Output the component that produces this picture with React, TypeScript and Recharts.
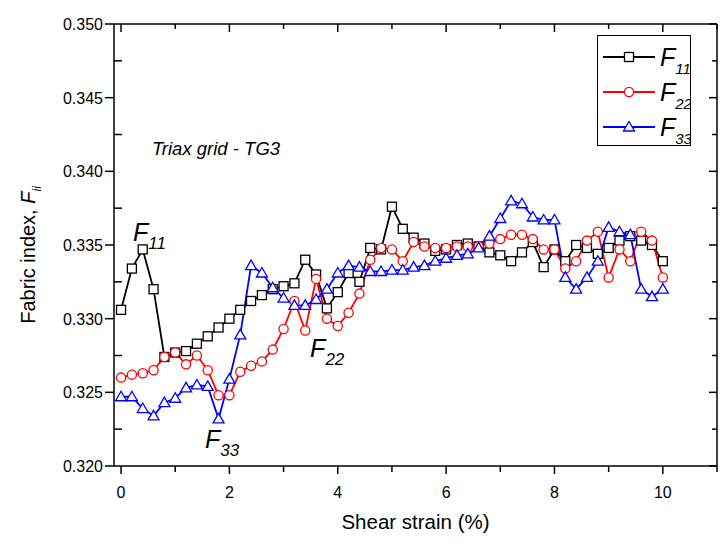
import React from "react";
import { LineChart, Line, XAxis, YAxis, Legend, ReferenceDot } from "recharts";

const STRAIN = [
  0, 0.2, 0.4, 0.6, 0.8, 1.0, 1.2, 1.4, 1.6, 1.8, 2.0, 2.2, 2.4, 2.6, 2.8, 3.0, 3.2,
  3.4, 3.6, 3.8, 4.0, 4.2, 4.4, 4.6, 4.8, 5.0, 5.2, 5.4, 5.6, 5.8, 6.0, 6.2, 6.4, 6.6,
  6.8, 7.0, 7.2, 7.4, 7.6, 7.8, 8.0, 8.2, 8.4, 8.6, 8.8, 9.0, 9.2, 9.4, 9.6, 9.8, 10.0,
];

const F11 = [
  0.3306, 0.3334, 0.3347, 0.332, 0.3274, 0.3277, 0.3278, 0.3283, 0.3288, 0.3294, 0.33,
  0.3306, 0.3312, 0.3316, 0.332, 0.3322, 0.3324, 0.334, 0.333, 0.3307, 0.3318, 0.3331,
  0.3325, 0.3348, 0.3347, 0.3376, 0.3361, 0.3355, 0.3351, 0.3346, 0.3347, 0.335, 0.3351,
  0.3349, 0.3345, 0.3343, 0.3339, 0.3345, 0.3352, 0.3335, 0.3347, 0.3339, 0.335, 0.3348,
  0.3344, 0.3348, 0.3353, 0.3356, 0.3353, 0.335, 0.3339,
];

const F22 = [
  0.326, 0.3262, 0.3263, 0.3265, 0.3274, 0.3277, 0.3269, 0.3275, 0.3265, 0.3248, 0.3248,
  0.3264, 0.3268, 0.3271, 0.3279, 0.3293, 0.3312, 0.3292, 0.3327, 0.33, 0.3295, 0.3304,
  0.3317, 0.334, 0.3348, 0.3347, 0.3339, 0.3352, 0.3349, 0.3348, 0.3348, 0.3349, 0.3349,
  0.3349, 0.3351, 0.3354, 0.3357, 0.3357, 0.3354, 0.3347, 0.3347, 0.3334, 0.3339, 0.3353,
  0.3359, 0.3328, 0.3347, 0.3339, 0.3359, 0.3353, 0.3328,
];

const F33 = [
  0.3247, 0.3247, 0.3239, 0.3234, 0.3243, 0.3246, 0.3253, 0.3255, 0.3254, 0.3232, 0.3259,
  0.3289, 0.3336, 0.3331, 0.3321, 0.3314, 0.3309, 0.3309, 0.3313, 0.332, 0.3331, 0.3336,
  0.3335, 0.3332, 0.3332, 0.3333, 0.3333, 0.3335, 0.3336, 0.3339, 0.3341, 0.3343, 0.3344,
  0.3348, 0.3356, 0.3368, 0.338, 0.3378, 0.3369, 0.3367, 0.3367, 0.3328, 0.332, 0.3328,
  0.3339, 0.3362, 0.3359, 0.3357, 0.332, 0.3315, 0.332,
];

const X_TICKS = [0, 1, 2, 3, 4, 5, 6, 7, 8, 9, 10, 11];
const Y_TICKS = [
  0.32, 0.3225, 0.325, 0.3275, 0.33, 0.3325, 0.335, 0.3375, 0.34, 0.3425, 0.345, 0.3475, 0.35,
];

const SERIES = [
  { key: "f11", sub: "11", color: "#000000", marker: "square" },
  { key: "f22", sub: "22", color: "#ff0000", marker: "circle" },
  { key: "f33", sub: "33", color: "#0000ff", marker: "triangle" },
];

const NOTES = [
  { x: 0.22, y: 0.3353, sub: "11" },
  { x: 3.49, y: 0.3274, sub: "22" },
  { x: 1.55, y: 0.3212, sub: "33" },
];

const FONT = "'Liberation Sans', Arial, sans-serif";

const data = STRAIN.map((s, i) => ({ strain: s, f11: F11[i], f22: F22[i], f33: F33[i] }));

function Marker({ type, cx, cy, color }: { type: string; cx: number; cy: number; color: string }) {
  if (type === "square") {
    return <rect x={cx - 4.5} y={cy - 4.5} width={9} height={9} fill="#fff" stroke={color} strokeWidth={1.3} />;
  }
  if (type === "circle") {
    return <circle cx={cx} cy={cy} r={4.6} fill="#fff" stroke={color} strokeWidth={1.3} />;
  }
  return (
    <polygon
      points={`${cx},${cy - 5.5} ${cx + 5.5},${cy + 4} ${cx - 5.5},${cy + 4}`}
      fill="#fff"
      stroke={color}
      strokeWidth={1.3}
    />
  );
}

const isMajorY = (v: number) => Math.round(v * 10000) % 50 === 0;

function BottomTick(props: any) {
  const { x, y, payload } = props;
  const v = payload.value;
  const major = v % 2 === 0;
  return (
    <g>
      <line x1={x} y1={y} x2={x} y2={y + (major ? 8 : 6)} stroke="#000" strokeWidth={1.5} />
      {major && v <= 10 && (
        <text x={x} y={y + 32} textAnchor="middle" fontSize={16} fontFamily={FONT} fill="#000">
          {v}
        </text>
      )}
    </g>
  );
}

function TopTick(props: any) {
  const { x, y, payload } = props;
  const major = payload.value % 2 === 0;
  return <line x1={x} y1={y} x2={x} y2={y + (major ? 8 : 5)} stroke="#000" strokeWidth={1.5} />;
}

function LeftTick(props: any) {
  const { x, y, payload } = props;
  const v = payload.value;
  if (isMajorY(v)) {
    return (
      <g>
        <line x1={x} y1={y} x2={x - 9} y2={y} stroke="#000" strokeWidth={1.5} />
        <text x={x - 11} y={y + 6} textAnchor="end" fontSize={16} fontFamily={FONT} fill="#000">
          {v.toFixed(3)}
        </text>
      </g>
    );
  }
  return <line x1={x} y1={y} x2={x + 8} y2={y} stroke="#000" strokeWidth={1.5} />;
}

function RightTick(props: any) {
  const { x, y, payload } = props;
  const major = isMajorY(payload.value);
  return <line x1={x} y1={y} x2={x - (major ? 8 : 5)} y2={y} stroke="#000" strokeWidth={1.5} />;
}

function LegendBox() {
  return (
    <svg width={94} height={111} style={{ display: "block" }}>
      <rect x={0.5} y={0.5} width={93} height={110} fill="#fff" stroke="#000" strokeWidth={1} />
      {SERIES.map((s, i) => {
        const cy = 22 + i * 35;
        return (
          <g key={s.key}>
            <line x1={6} y1={cy} x2={58} y2={cy} stroke={s.color} strokeWidth={2} />
            <Marker type={s.marker} cx={32} cy={cy} color={s.color} />
            <text x={63} y={cy + 9} fontSize={25} fontStyle="italic" fontFamily={FONT} fill="#000">
              F
              <tspan dy={8} fontSize={15}>
                {s.sub}
              </tspan>
            </text>
          </g>
        );
      })}
    </svg>
  );
}

export default function App() {
  return (
    <div style={{ position: "absolute", left: 0, top: 0, width: 727, height: 547, background: "#fff" }}>
      <LineChart width={727} height={547} data={data} margin={{ top: 14, right: 0, bottom: 31, left: 34 }}>
        <XAxis
          dataKey="strain"
          type="number"
          domain={[-0.13, 11]}
          allowDataOverflow
          ticks={X_TICKS}
          interval={0}
          tickSize={0}
          tickMargin={0}
          tickLine={false}
          tick={<BottomTick />}
          height={50}
          axisLine={{ stroke: "#000", strokeWidth: 1.5 }}
          label={(p: any) => {
            const vb = p.viewBox;
            return (
              <text x={vb.x + vb.width / 2} y={vb.y + 63} textAnchor="middle" fontSize={20.5} fontFamily={FONT} fill="#000">
                Shear strain (%)
              </text>
            );
          }}
        />
        <XAxis
          xAxisId="top"
          orientation="top"
          dataKey="strain"
          type="number"
          domain={[-0.13, 11]}
          allowDataOverflow
          ticks={X_TICKS}
          interval={0}
          tickSize={0}
          tickMargin={0}
          tickLine={false}
          tick={<TopTick />}
          height={10}
          axisLine={{ stroke: "#000", strokeWidth: 1.5 }}
        />
        <YAxis
          type="number"
          domain={[0.32, 0.35]}
          allowDataOverflow
          ticks={Y_TICKS}
          interval={0}
          tickSize={0}
          tickMargin={0}
          tickLine={false}
          tick={<LeftTick />}
          width={80}
          axisLine={{ stroke: "#000", strokeWidth: 1.5 }}
          label={(p: any) => {
            const vb = p.viewBox;
            const cx = vb.x + 1;
            const cy = vb.y + vb.height / 2 + 10;
            return (
              <text
                x={cx}
                y={cy}
                transform={`rotate(-90 ${cx} ${cy})`}
                textAnchor="middle"
                fontSize={20}
                fontFamily={FONT}
                fill="#000"
              >
                Fabric index, <tspan fontStyle="italic">F</tspan>
                <tspan fontStyle="italic" fontSize={12} dy={6}>
                  ii
                </tspan>
              </text>
            );
          }}
        />
        <YAxis
          yAxisId="right"
          orientation="right"
          type="number"
          domain={[0.32, 0.35]}
          allowDataOverflow
          ticks={Y_TICKS}
          interval={0}
          tickSize={0}
          tickMargin={0}
          tickLine={false}
          tick={<RightTick />}
          width={10}
          axisLine={{ stroke: "#000", strokeWidth: 1.5 }}
        />
        {SERIES.map((s) => (
          <Line
            key={s.key}
            dataKey={s.key}
            type="linear"
            stroke={s.color}
            strokeWidth={1.8}
            isAnimationActive={false}
            dot={(p: any) => <Marker key={`${s.key}-${p.index}`} type={s.marker} cx={p.cx} cy={p.cy} color={s.color} />}
            activeDot={false}
          />
        ))}
        <ReferenceDot
          x={0.57}
          y={0.3411}
          r={0}
          ifOverflow="visible"
          shape={(p: any) => (
            <text x={p.cx} y={p.cy} fontSize={18.5} fontStyle="italic" fontFamily={FONT} fill="#000">
              Triax grid - TG3
            </text>
          )}
        />
        {NOTES.map((n) => (
          <ReferenceDot
            key={n.sub}
            x={n.x}
            y={n.y}
            r={0}
            ifOverflow="visible"
            shape={(p: any) => (
              <text x={p.cx} y={p.cy} fontSize={25} fontStyle="italic" fontFamily={FONT} fill="#000">
                F
                <tspan dy={8} fontSize={17}>
                  {n.sub}
                </tspan>
              </text>
            )}
          />
        ))}
        <Legend
          layout="vertical"
          align="center"
          verticalAlign="middle"
          content={() => <LegendBox />}
          wrapperStyle={{ position: "absolute", left: 597, top: 35, width: 94, height: 111 }}
        />
      </LineChart>
    </div>
  );
}
